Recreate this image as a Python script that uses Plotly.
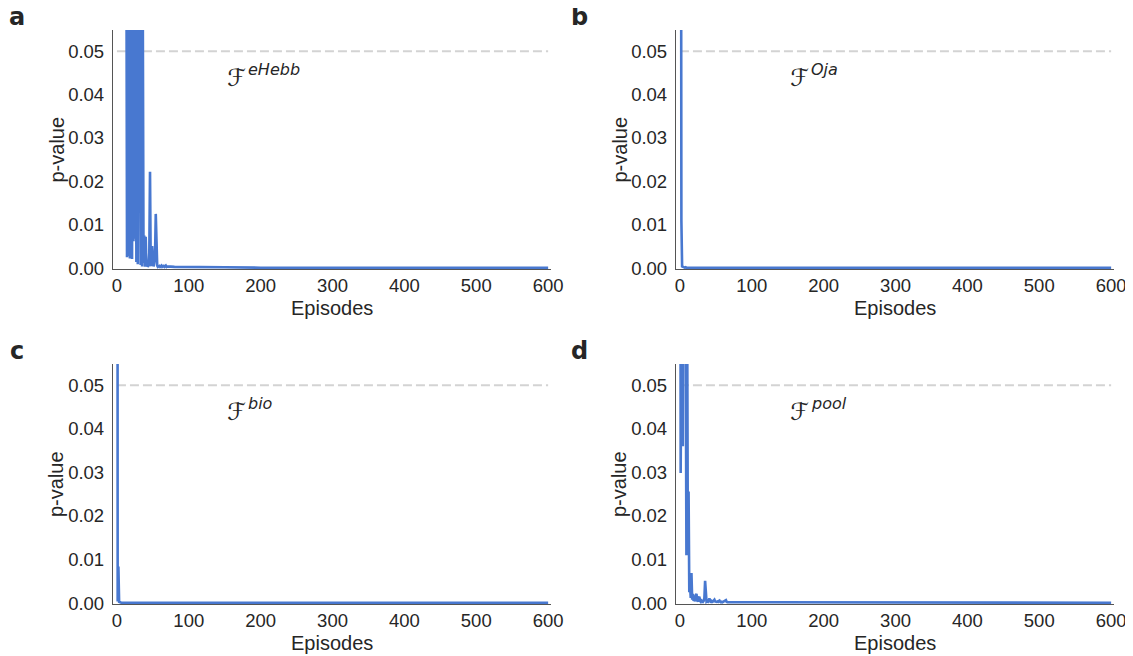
import plotly.graph_objects as go

# ---------------- data ----------------
# dense early part: one value per episode starting at episode 0
a_dense = [0.42, 0.35, 0.47, 0.29, 0.33, 0.24, 0.30, 0.19, 0.22, 0.15, 0.18, 0.12, 0.14, 0.09,
           0.0025, 0.16, 0.0028, 0.11, 0.0022, 0.037, 0.13, 0.0021, 0.095, 0.0062, 0.085, 0.0068,
           0.12, 0.0014, 0.078, 0.0009, 0.065, 0.047, 0.072, 0.0007, 0.062, 0.0004, 0.058, 0.0012,
           0.0075, 0.0003, 0.0072, 0.0004, 0.0011, 0.0003, 0.0006, 0.0035, 0.0222, 0.0008, 0.0005,
           0.0051, 0.0009, 0.0004, 0.0012, 0.0031, 0.0125, 0.0021, 0.0006, 0.0003, 0.0004, 0.0005,
           0.0003, 0.0004, 0.0006, 0.0003, 0.0004, 0.0005, 0.0003, 0.0004, 0.0006, 0.0003, 0.0004]
b_dense = [0.35, 0.0236, 0.011, 0.0004, 0.0003, 0.0002, 0.0002, 0.0001, 0.0002, 0.0001]
c_dense = [0.42, 0.0004, 0.0084, 0.0003, 0.0002, 0.0002, 0.0001, 0.0001, 0.0001, 0.0001]
d_dense = [0.21, 0.0299, 0.14, 0.09, 0.036, 0.12, 0.08, 0.10, 0.065, 0.011, 0.07, 0.012,
           0.0256, 0.0025, 0.0042, 0.0012, 0.0069, 0.0008, 0.0021, 0.0005, 0.0009, 0.0004, 0.0018,
           0.0021, 0.0006, 0.0004, 0.0011, 0.0015, 0.0005, 0.0003, 0.0006, 0.0004, 0.0003, 0.0005,
           0.0012, 0.0051, 0.0009, 0.0003, 0.0004, 0.0003, 0.0006, 0.0011, 0.0004, 0.0003, 0.0005,
           0.0003, 0.0004, 0.0006, 0.0008, 0.0004, 0.0003, 0.0003, 0.0004, 0.0003, 0.0005, 0.0006,
           0.0003, 0.0002, 0.0003, 0.0002, 0.0003, 0.0004, 0.0005, 0.0006, 0.0007, 0.0003, 0.0002]

# sparse tail (episode, value)
tail_episodes = [80, 100, 120, 150, 200, 250, 300, 350, 400, 450, 500, 550, 600]
a_tail = [0.0003, 0.0003, 0.0002, 0.0002, 0.0001, 0.0001, 0.0001, 0.0001, 0.0001, 0.0001, 0.0001, 0.0001, 0.0001]
b_tail = [0.0001, 0.0001, 0.0001, 0.0001, 0.0001, 0.0001, 0.0001, 0.0001, 0.0001, 0.0001, 0.0001, 0.0001, 0.0001]
c_tail = [0.0001, 0.0001, 0.0001, 0.0001, 0.0001, 0.0001, 0.0001, 0.0001, 0.0001, 0.0001, 0.0001, 0.0001, 0.0001]
d_tail = [0.0002, 0.0002, 0.0001, 0.0001, 0.0001, 0.0001, 0.0001, 0.0001, 0.0001, 0.0001, 0.0001, 0.0001, 0.0001]

panel_letters = ["a", "b", "c", "d"]
rule_labels = ["eHebb", "Oja", "bio", "pool"]
threshold = 0.05
x_ticks = [0, 100, 200, 300, 400, 500, 600]
y_ticks = [0.00, 0.01, 0.02, 0.03, 0.04, 0.05]
x_title = "Episodes"
y_title = "p-value"

series = [(a_dense, a_tail), (b_dense, b_tail), (c_dense, c_tail), (d_dense, d_tail)]

# ---------------- layout geometry ----------------
W, H = 1133, 656
OFF = 8  # page body margin of the html page
x_doms = [(113, 551), (676, 1114)]
y_doms = [(30, 269), (364, 604)]

def fx(p):
    return (p - OFF) / W

def fy(p):
    return 1 - (p - OFF) / H

LINE_COLOR = "#4878d0"
TEXT_COLOR = "#262626"
SPINE_COLOR = "#555555"
FONT = "Liberation Sans, Arial, sans-serif"

fig = go.Figure()
layout = dict(
    width=W, height=H, margin=dict(l=0, r=0, t=0, b=0, autoexpand=False),
    paper_bgcolor="white", plot_bgcolor="white", showlegend=False,
    font=dict(family=FONT, color=TEXT_COLOR, size=18),
)
annotations = []

for i, (dense, tail) in enumerate(series):
    row, col = divmod(i, 2)
    xa = "xaxis" if i == 0 else f"xaxis{i+1}"
    ya = "yaxis" if i == 0 else f"yaxis{i+1}"
    xr = "x" if i == 0 else f"x{i+1}"
    yr = "y" if i == 0 else f"y{i+1}"
    eps = list(range(len(dense))) + tail_episodes
    vals = list(dense) + list(tail)
    # threshold line
    fig.add_trace(go.Scatter(x=[0, 600], y=[threshold, threshold], mode="lines", xaxis=xr, yaxis=yr,
                             line=dict(color="#d3d3d3", width=2, dash="9px,4px"), hoverinfo="skip"))
    fig.add_trace(go.Scatter(x=eps, y=vals, mode="lines", xaxis=xr, yaxis=yr,
                             line=dict(color=LINE_COLOR, width=2.6), hoverinfo="skip"))
    x0, x1 = x_doms[col]
    y0, y1 = y_doms[row]
    layout[xa] = dict(
        domain=[fx(x0), fx(x1)], range=[-5.5, 604], anchor=yr, automargin=False,
        tickvals=x_ticks, ticks="outside", ticklen=0, tickcolor="rgba(0,0,0,0)",
        showline=True, linecolor=SPINE_COLOR, linewidth=1.25, showgrid=False, zeroline=False,
        tickfont=dict(size=18.5),
    )
    layout[ya] = dict(
        domain=[fy(y1), fy(y0)], range=[-0.0002, 0.0549], anchor=xr, automargin=False,
        tickvals=y_ticks, tickformat=".2f", ticks="outside", ticklen=4, tickcolor="rgba(0,0,0,0)",
        showline=True, linecolor=SPINE_COLOR, linewidth=1.25, showgrid=False, zeroline=False,
        tickfont=dict(size=18.5),
    )
    # axis titles
    annotations.append(dict(
        x=fx((x0 + x1) / 2 - 0.5), y=fy(y1 + 39), xref="paper", yref="paper",
        xanchor="center", yanchor="middle", showarrow=False, text=x_title,
        font=dict(size=20, color=TEXT_COLOR, family=FONT),
    ))
    annotations.append(dict(
        x=fx(x0 - 57), y=fy((y0 + y1) / 2), xref="paper", yref="paper",
        xanchor="center", yanchor="middle", showarrow=False, text=y_title, textangle=-90,
        font=dict(size=20, color=TEXT_COLOR, family=FONT),
    ))
    # rule label
    annotations.append(dict(
        x=150, y=0.0438, xref=xr, yref=yr, xanchor="left", yanchor="middle", showarrow=False,
        text="ℱ", font=dict(size=24, color=TEXT_COLOR, family="DejaVu Sans"),
    ))
    annotations.append(dict(
        x=180, y=0.0459, xref=xr, yref=yr, xanchor="left", yanchor="middle", showarrow=False,
        text=f"<i>{rule_labels[i]}</i>", font=dict(size=16, color=TEXT_COLOR, family="DejaVu Sans"),
    ))
    # panel letter
    lx = 17 if col == 0 else 579
    ly = 17 if row == 0 else 351
    annotations.append(dict(
        x=fx(lx), y=fy(ly), xref="paper", yref="paper", xanchor="center", yanchor="middle",
        showarrow=False, text=f"<b>{panel_letters[i]}</b>",
        font=dict(size=24, color=TEXT_COLOR, family="DejaVu Sans"),
    ))

layout["annotations"] = annotations
fig.update_layout(**layout)
fig.write_html("out.html")
